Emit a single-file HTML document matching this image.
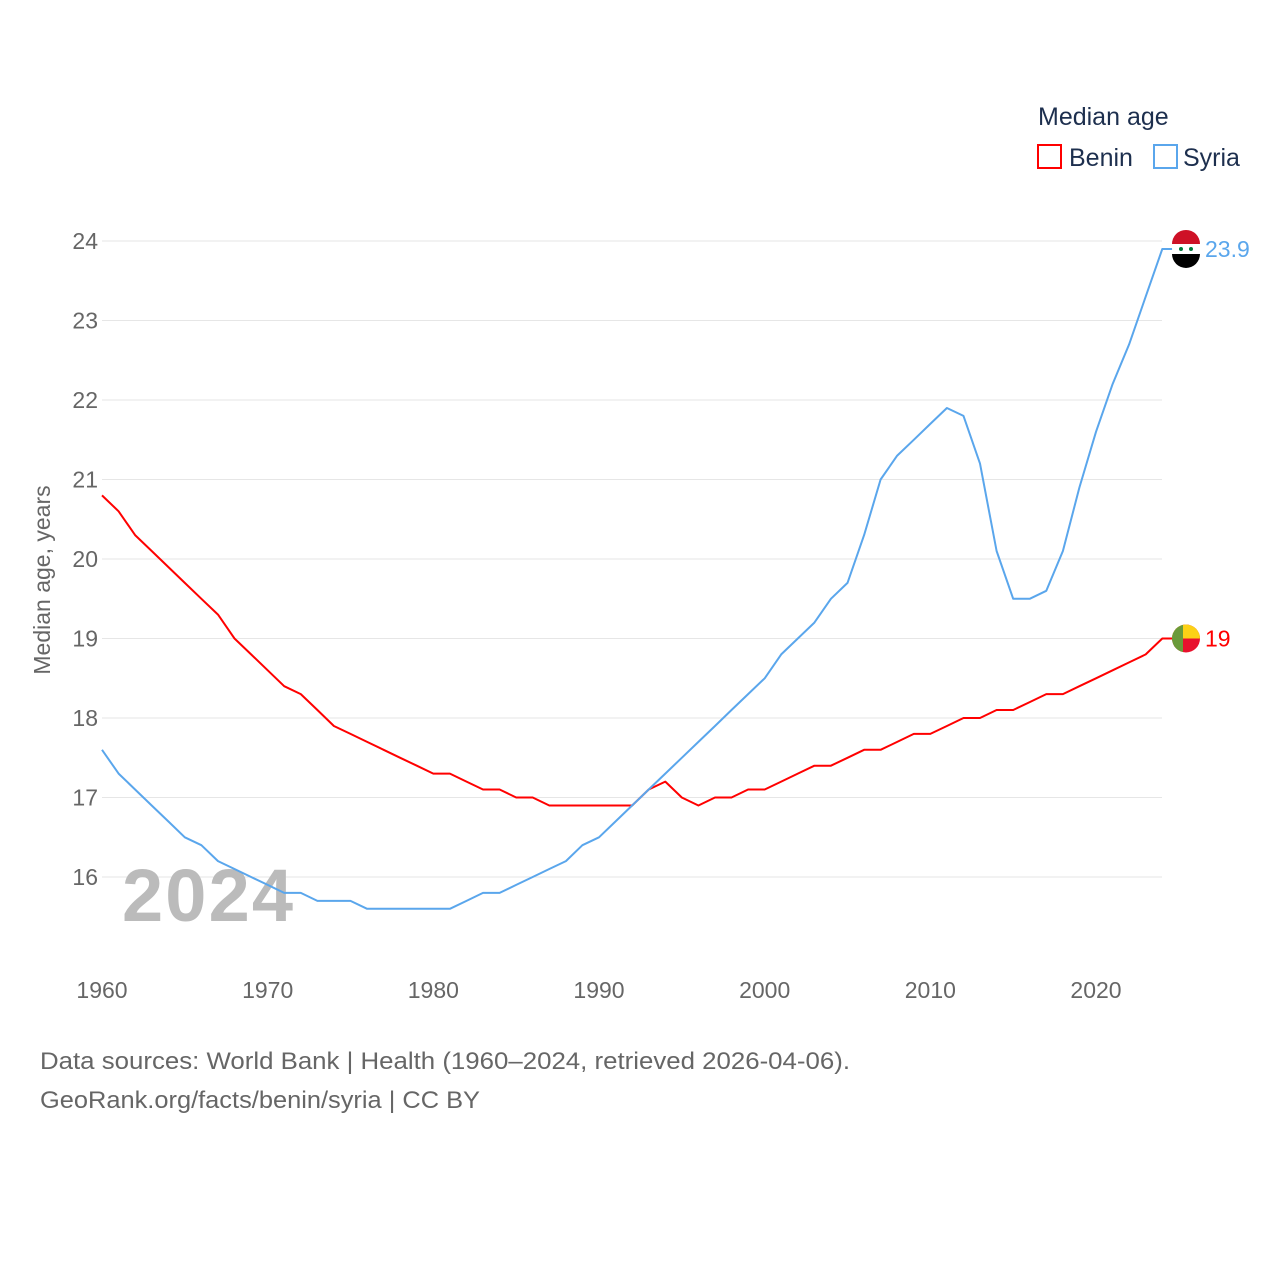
<!DOCTYPE html>
<html><head><meta charset="utf-8"><style>
html,body{margin:0;padding:0;background:#fff;width:1280px;height:1280px;overflow:hidden}
svg text{font-family:"Liberation Sans",sans-serif}
</style></head><body>
<svg id="chart" width="1280" height="1280">
<defs><clipPath id="bclip"><circle cx="1186" cy="638" r="14"/></clipPath></defs>
<text x="1038" y="125" font-size="25" fill="#1d2f4e">Median age</text>
<g><rect x="1038" y="145" width="23" height="23" fill="none" stroke="#f00" stroke-width="2"/><text x="1069" y="166" font-size="25" fill="#1d2f4e">Benin</text></g>
<g><rect x="1154" y="145" width="23" height="23" fill="none" stroke="#5aa6ec" stroke-width="2"/><text x="1183" y="166" font-size="25" fill="#1d2f4e">Syria</text></g>
<g id="grid"></g><g id="yticks"></g><g id="xticks"></g>
<text transform="translate(50,580) rotate(-90)" text-anchor="middle" font-size="23" fill="#666">Median age, years</text>
<text x="122" y="921" font-size="74" font-weight="bold" fill="#bbb" textLength="171">2024</text>
<g id="lines"></g>
<text x="40" y="1069" font-size="24" fill="#666" textLength="810" lengthAdjust="spacingAndGlyphs">Data sources: World Bank | Health (1960–2024, retrieved 2026-04-06).</text>
<text x="40" y="1108" font-size="24" fill="#666" textLength="440" lengthAdjust="spacingAndGlyphs">GeoRank.org/facts/benin/syria | CC BY</text>
</svg>
<script>
const years=[];for(let y=1960;y<=2024;y++)years.push(y);
const benin=[20.8,20.6,20.3,20.1,19.9,19.7,19.5,19.3,19.0,18.8,18.6,18.4,18.3,18.1,17.9,17.8,17.7,17.6,17.5,17.4,17.3,17.3,17.2,17.1,17.1,17.0,17.0,16.9,16.9,16.9,16.9,16.9,16.9,17.1,17.2,17.0,16.9,17.0,17.0,17.1,17.1,17.2,17.3,17.4,17.4,17.5,17.6,17.6,17.7,17.8,17.8,17.9,18.0,18.0,18.1,18.1,18.2,18.3,18.3,18.4,18.5,18.6,18.7,18.8,19.0];
const syria=[17.6,17.3,17.1,16.9,16.7,16.5,16.4,16.2,16.1,16.0,15.9,15.8,15.8,15.7,15.7,15.7,15.6,15.6,15.6,15.6,15.6,15.6,15.7,15.8,15.8,15.9,16.0,16.1,16.2,16.4,16.5,16.7,16.9,17.1,17.3,17.5,17.7,17.9,18.1,18.3,18.5,18.8,19.0,19.2,19.5,19.7,20.3,21.0,21.3,21.5,21.7,21.9,21.8,21.2,20.1,19.5,19.5,19.6,20.1,20.9,21.6,22.2,22.7,23.3,23.9];
const yTicks=[16,17,18,19,20,21,22,23,24];
const xTicks=[1960,1970,1980,1990,2000,2010,2020];
const X=y=>102+(y-1960)*(994/60), Y=v=>241+(24-v)*79.5;
const NS="http://www.w3.org/2000/svg";
function mk(tag,attrs,parent){const e=document.createElementNS(NS,tag);for(const k in attrs)e.setAttribute(k,attrs[k]);parent.appendChild(e);return e;}
const grid=document.getElementById('grid'),yt=document.getElementById('yticks'),xt=document.getElementById('xticks'),lines=document.getElementById('lines');
yTicks.forEach(v=>{
 const l=mk('line',{x1:102,x2:1162,y1:Y(v),y2:Y(v),stroke:'#e6e6e6','stroke-width':1},grid);
 
 
 const t=mk('text',{x:98,y:Y(v)+8,'text-anchor':'end','font-size':23,fill:'#666'},yt);t.textContent=v;
 
 
});
xTicks.forEach(v=>{
 const t=mk('text',{x:X(v),y:998,'text-anchor':'middle','font-size':23,fill:'#666'},xt);t.textContent=v;
 
 
});
function series(vals,color,name,label,flag){
 const pts=vals.map((v,i)=>X(years[i]).toFixed(1)+','+Y(v).toFixed(1));
 const last=vals[vals.length-1];
 pts.push('1176,'+Y(last).toFixed(1));
 const p=mk('polyline',{points:pts.join(' '),fill:'none',stroke:color,'stroke-width':2,'stroke-linejoin':'round'},lines);
 
 
 const g=mk('g',{},lines);
 
 
 const cy=Y(last),cx=1186;
 flag(g,cx,cy);
 const t=mk('text',{x:1205,y:cy+8,'font-size':23,fill:color},lines);t.textContent=label;
 
 
}
series(benin,'#f00','benin','19',(g,cx,cy)=>{
 const c=document.querySelector('#bclip circle');c.setAttribute('cx',cx);c.setAttribute('cy',cy);
 const h=mk('g',{'clip-path':'url(#bclip)'},g);
 mk('rect',{x:cx-14,y:cy-14,width:28,height:28,fill:'#e8112d'},h);
 mk('rect',{x:cx-14,y:cy-14,width:28,height:14,fill:'#fcd116'},h);
 mk('rect',{x:cx-14,y:cy-14,width:11,height:28,fill:'#6a9a3a'},h);
});
series(syria,'#5aa6ec','syria','23.9',(g,cx,cy)=>{
 mk('circle',{cx,cy,r:14,fill:'#fff'},g);
 mk('path',{d:`M${cx-14},${cy-5} A14,14 0 0 1 ${cx+14},${cy-5} Z`,fill:'#ce1126'},g);
 mk('path',{d:`M${cx-14},${cy+5} A14,14 0 0 0 ${cx+14},${cy+5} Z`,fill:'#000'},g);
 mk('circle',{cx:cx-5,cy,r:2,fill:'#007a3d'},g);mk('circle',{cx:cx+5,cy,r:2,fill:'#007a3d'},g);
});
</script>
</body></html>
